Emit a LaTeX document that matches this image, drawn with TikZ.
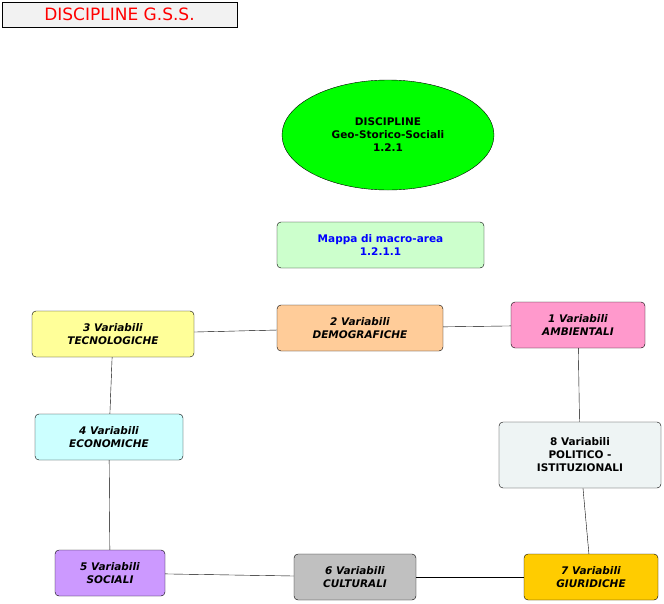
\documentclass[tikz,border=0pt]{standalone}
\usepackage{fontspec}
\setmainfont{DejaVu Sans}
\usetikzlibrary{shapes.geometric}
\definecolor{peach}{HTML}{FFCC99}
\definecolor{pinkv}{HTML}{FF99CC}
\definecolor{yelv}{HTML}{FFFF99}
\definecolor{cyanv}{HTML}{CCFFFF}
\definecolor{greyv}{HTML}{EEF4F4}
\definecolor{lilac}{HTML}{CC99FF}
\definecolor{silv}{HTML}{C0C0C0}
\definecolor{goldv}{HTML}{FFCC00}
\definecolor{mint}{HTML}{CCFFCC}
\begin{document}
\begin{tikzpicture}[x=1pt, y=-1pt, inner sep=1pt]
	\tikzset{topic/.style={draw, rounded corners=4pt, align=center, font=\fontsize{10.5}{13}\selectfont\bfseries\itshape}}
	\useasboundingbox (0,0) rectangle (664,603);
		\node[draw, fill=gray!10, minimum width=235pt, minimum height=25pt, text=red, font=\fontsize{17}{20}\selectfont] (title) at (119.5,14.5) {DISCIPLINE G.S.S.};
		\node[draw, ellipse, fill=green, minimum width=212pt, minimum height=110pt, align=center, font=\fontsize{10.5}{13}\selectfont\bfseries] (main) at (388,135) {DISCIPLINE\\Geo-Storico-Sociali\\1.2.1};
		\node[topic, fill=mint, text=blue, font=\fontsize{10.5}{13}\selectfont\bfseries, minimum width=207pt, minimum height=46pt] (mappa) at (380.5,245) {Mappa di macro-area\\1.2.1.1};
		\node[topic, fill=peach, minimum width=166pt, minimum height=46pt] (v2) at (360,328) {2 Variabili\\DEMOGRAFICHE};
		\node[topic, fill=pinkv, minimum width=134pt, minimum height=46pt] (v1) at (578,325) {1 Variabili\\AMBIENTALI};
		\node[topic, fill=yelv, minimum width=162pt, minimum height=46pt] (v3) at (113,334) {3 Variabili\\TECNOLOGICHE};
		\node[topic, fill=cyanv, minimum width=148pt, minimum height=46pt] (v4) at (109,437) {4 Variabili\\ECONOMICHE};
		\node[topic, fill=greyv, font=\fontsize{10.5}{13}\selectfont\bfseries, minimum width=162pt, minimum height=66pt] (v8) at (580,455) {8 Variabili\\POLITICO -\\ISTITUZIONALI};
		\node[topic, fill=lilac, minimum width=110pt, minimum height=46pt] (v5) at (110,573) {5 Variabili\\SOCIALI};
		\node[topic, fill=silv, minimum width=122pt, minimum height=46pt] (v6) at (355,577) {6 Variabili\\CULTURALI};
		\node[topic, fill=goldv, minimum width=134pt, minimum height=46pt] (v7) at (591,577) {7 Variabili\\GIURIDICHE};

		\draw (v3) -- (v2);
		\draw (v2) -- (v1);
		\draw (v3) -- (v4);
		\draw (v4) -- (v5);
		\draw (v5) -- (v6);
		\draw (v6) -- (v7);
		\draw (v7) -- (v8);
		\draw (v8) -- (v1);
	\end{tikzpicture}
\end{document}
